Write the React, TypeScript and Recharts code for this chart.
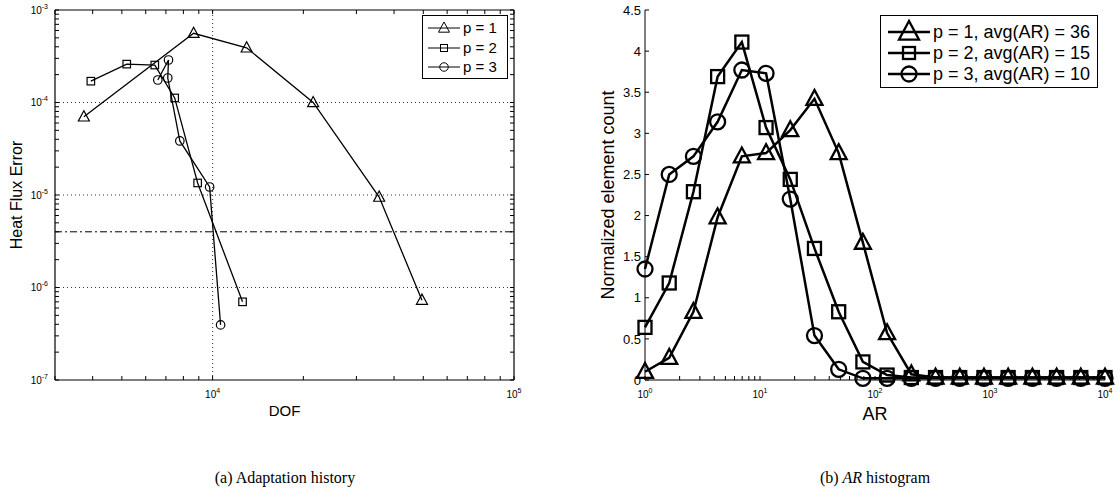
import React from 'react';
import { LineChart, Line, XAxis, YAxis, ReferenceLine, Legend, Label } from 'recharts';

const SANS = '"Liberation Sans", Arial, Helvetica, sans-serif';
const SERIF = '"Liberation Serif", "DejaVu Serif", serif';

// ---------- (a) Adaptation history ----------
const dofP1 = [3740, 8650, 12970, 21560, 35700, 49500];
const errP1 = [7.0e-5, 5.6e-4, 3.9e-4, 1.0e-4, 9.5e-6, 7.3e-7];
const dofP2 = [3945, 5190, 6430, 7485, 8920, 12570];
const errP2 = [1.7e-4, 2.6e-4, 2.54e-4, 1.12e-4, 1.35e-5, 7.0e-7];
const dofP3 = [6580, 7140, 7100, 7785, 9775, 10630];
const errP3 = [1.75e-4, 2.88e-4, 1.84e-4, 3.84e-5, 1.22e-5, 3.94e-7];
const leftNames = ['p = 1', 'p = 2', 'p = 3'];
const errorTarget = 4.0e-6;
const dofTicks = [3000, 4000, 5000, 6000, 7000, 8000, 9000, 10000, 20000, 30000, 40000, 50000, 60000, 70000, 80000, 90000, 100000];
const errTicks = [
  1e-7, 2e-7, 3e-7, 4e-7, 5e-7, 6e-7, 7e-7, 8e-7, 9e-7,
  1e-6, 2e-6, 3e-6, 4e-6, 5e-6, 6e-6, 7e-6, 8e-6, 9e-6,
  1e-5, 2e-5, 3e-5, 4e-5, 5e-5, 6e-5, 7e-5, 8e-5, 9e-5,
  1e-4, 2e-4, 3e-4, 4e-4, 5e-4, 6e-4, 7e-4, 8e-4, 9e-4, 1e-3,
];
const dofGrid = [1e4];
const errGrid = [1e-6, 1e-5, 1e-4];

// ---------- (b) AR histogram ----------
const arBins = [1, 1.624, 2.637, 4.281, 6.952, 11.29, 18.33, 29.76, 48.33, 78.48, 127.4, 206.9, 336.0, 545.6, 885.9, 1438, 2336, 3793, 6158, 10000];
const countP1 = [0.1, 0.27, 0.83, 1.98, 2.72, 2.76, 3.04, 3.42, 2.76, 1.67, 0.57, 0.07, 0.03, 0.03, 0.03, 0.03, 0.03, 0.03, 0.03, 0.03];
const countP2 = [0.64, 1.18, 2.29, 3.69, 4.11, 3.07, 2.44, 1.6, 0.83, 0.22, 0.06, 0.03, 0.03, 0.03, 0.03, 0.03, 0.03, 0.03, 0.03, 0.03];
const countP3 = [1.35, 2.5, 2.72, 3.14, 3.77, 3.73, 2.2, 0.54, 0.13, 0.02, 0.02, 0.02, 0.02, 0.02, 0.02, 0.02, 0.02, 0.02, 0.02, 0.02];
const rightNames = ['p = 1, avg(AR) = 36', 'p = 2, avg(AR) = 15', 'p = 3, avg(AR) = 10'];
const arTicks = [
  1, 2, 3, 4, 5, 6, 7, 8, 9,
  10, 20, 30, 40, 50, 60, 70, 80, 90,
  100, 200, 300, 400, 500, 600, 700, 800, 900,
  1000, 2000, 3000, 4000, 5000, 6000, 7000, 8000, 9000, 10000,
];
const countTicks = [0, 0.5, 1, 1.5, 2, 2.5, 3, 3.5, 4, 4.5];

const shapes = ['tri', 'sq', 'circ'];

const zip = (xs: number[], ys: number[]) => xs.map((x, i) => ({ x, y: ys[i] }));
const leftData = [zip(dofP1, errP1), zip(dofP2, errP2), zip(dofP3, errP3)];
const rightData = [zip(arBins, countP1), zip(arBins, countP2), zip(arBins, countP3)];

const isDecade = (v: number) => {
  const l = Math.log10(v);
  return Math.abs(l - Math.round(l)) < 1e-6;
};

function Marker({ shape, cx, cy, size, sw }: any) {
  if (cx == null || cy == null) return null;
  if (shape === 'tri') {
    const hw = size / 2;
    const top = cy - size * 0.55;
    const bot = cy + size * 0.38;
    return (
      <polygon
        points={`${cx},${top} ${cx - hw},${bot} ${cx + hw},${bot}`}
        fill="none"
        stroke="#000"
        strokeWidth={sw}
        strokeLinejoin="miter"
      />
    );
  }
  if (shape === 'sq') {
    const h = size / 2;
    return <rect x={cx - h} y={cy - h} width={size} height={size} fill="none" stroke="#000" strokeWidth={sw} />;
  }
  return <circle cx={cx} cy={cy} r={size / 2} fill="none" stroke="#000" strokeWidth={sw} />;
}

const dotRenderer = (shape: string, size: number, sw: number) => (p: any) => (
  <Marker key={`m-${shape}-${p.index}`} shape={shape} cx={p.cx} cy={p.cy} size={size} sw={sw} />
);

function PowLabel({ x, y, v, anchor, fs }: any) {
  const e = Math.round(Math.log10(v));
  return (
    <text x={x} y={y} textAnchor={anchor} fontSize={fs} fontFamily={SANS} fill="#000">
      10
      <tspan dy={-5} fontSize={fs * 0.7}>{String(e)}</tspan>
    </text>
  );
}

function BottomTick(props: any) {
  const { x, y, payload, len, labels, fs, labelDy } = props;
  const v = payload.value;
  return (
    <g>
      <line x1={x} x2={x} y1={y} y2={y - len} stroke="#000" strokeWidth={1} />
      {labels && isDecade(v) ? <PowLabel x={x} y={y + labelDy} v={v} anchor="middle" fs={fs} /> : null}
    </g>
  );
}

function TopTick(props: any) {
  const { x, y, len } = props;
  return <line x1={x} x2={x} y1={y} y2={y + len} stroke="#000" strokeWidth={1} />;
}

function LeftLogTick(props: any) {
  const { x, y, payload, len, fs } = props;
  const v = payload.value;
  return (
    <g>
      <line x1={x} x2={x + len} y1={y} y2={y} stroke="#000" strokeWidth={1} />
      {isDecade(v) ? <PowLabel x={x - 7} y={y + 3.5} v={v} anchor="end" fs={fs} /> : null}
    </g>
  );
}

function RightTick(props: any) {
  const { x, y, len } = props;
  return <line x1={x} x2={x - len} y1={y} y2={y} stroke="#000" strokeWidth={1} />;
}

function LeftLinTick(props: any) {
  const { x, y, payload, len, fs } = props;
  return (
    <g>
      <line x1={x} x2={x + len} y1={y} y2={y} stroke="#000" strokeWidth={1} />
      <text x={x - 4} y={y + fs * 0.36} textAnchor="end" fontSize={fs} fontFamily={SANS} fill="#000">
        {String(payload.value)}
      </text>
    </g>
  );
}

function LegendBox({ names, w, h, rows, lx1, lx2, mx, tx, fs, sizes, sw, lw }: any) {
  return (
    <svg width={w} height={h} style={{ display: 'block', overflow: 'visible' }}>
      <rect x={0.5} y={0.5} width={w - 1} height={h - 1} fill="#fff" stroke="#000" strokeWidth={1} />
      {names.map((n: string, i: number) => (
        <g key={n}>
          <line x1={lx1} x2={lx2} y1={rows[i]} y2={rows[i]} stroke="#000" strokeWidth={lw} />
          <Marker shape={shapes[i]} cx={mx} cy={rows[i]} size={sizes[i]} sw={sw} />
          <text x={tx} y={rows[i] + fs * 0.36} fontSize={fs} fontFamily={SANS} fill="#000">
            {n}
          </text>
        </g>
      ))}
    </svg>
  );
}

const axisLineStyle = { stroke: '#000', strokeWidth: 1.2 };

function LeftChart() {
  const sizes = [11, 7.5, 8.5];
  return (
    <LineChart width={540} height={501} margin={{ top: 9, right: 25, bottom: 76, left: 5 }}>
      <XAxis
        type="number"
        dataKey="x"
        scale="log"
        domain={[3000, 100000]}
        ticks={dofTicks}
        interval={0}
        tickLine={false}
        tickSize={0}
        tickMargin={0}
        height={45}
        axisLine={axisLineStyle}
        tick={<BottomTick len={4} labels fs={10} labelDy={18} />}
      >
        <Label value="DOF" position="insideBottom" offset={9} style={{ fontSize: 15, fill: '#000', fontFamily: SANS }} />
      </XAxis>
      <XAxis
        xAxisId="top"
        orientation="top"
        type="number"
        dataKey="x"
        scale="log"
        domain={[3000, 100000]}
        ticks={dofTicks}
        interval={0}
        tickLine={false}
        tickSize={0}
        tickMargin={0}
        height={1}
        axisLine={axisLineStyle}
        tick={<TopTick len={4} />}
      />
      <YAxis
        type="number"
        scale="log"
        domain={[1e-7, 1e-3]}
        ticks={errTicks}
        interval={0}
        tickLine={false}
        tickSize={0}
        tickMargin={0}
        width={50}
        axisLine={axisLineStyle}
        tick={<LeftLogTick len={4} fs={10} />}
      >
        <Label
          value="Heat Flux Error"
          angle={-90}
          position="insideLeft"
          offset={11}
          style={{ fontSize: 16, fill: '#000', fontFamily: SANS, textAnchor: 'middle' }}
        />
      </YAxis>
      <YAxis
        yAxisId="right"
        orientation="right"
        type="number"
        scale="log"
        domain={[1e-7, 1e-3]}
        ticks={errTicks}
        interval={0}
        tickLine={false}
        tickSize={0}
        tickMargin={0}
        width={1}
        axisLine={axisLineStyle}
        tick={<RightTick len={4} />}
      />
      {dofGrid.map((v) => (
        <ReferenceLine key={`gx${v}`} x={v} stroke="#333" strokeDasharray="1 3" strokeWidth={1} />
      ))}
      {errGrid.map((v) => (
        <ReferenceLine key={`gy${v}`} y={v} stroke="#333" strokeDasharray="1 3" strokeWidth={1} />
      ))}
      <ReferenceLine y={errorTarget} stroke="#000" strokeDasharray="7 3 2 3" strokeWidth={1} />
      {/* invisible carrier so the mirrored top/right axes get a domain */}
      <Line
        xAxisId="top"
        yAxisId="right"
        data={leftData[0]}
        dataKey="y"
        stroke="none"
        dot={false}
        activeDot={false}
        legendType="none"
        isAnimationActive={false}
      />
      {leftData.map((d, i) => (
        <Line
          key={leftNames[i]}
          name={leftNames[i]}
          data={d}
          dataKey="y"
          type="linear"
          stroke="#000"
          strokeWidth={1.3}
          isAnimationActive={false}
          activeDot={false}
          dot={dotRenderer(shapes[i], sizes[i], 1.2)}
        />
      ))}
      <Legend
        layout="horizontal"
        verticalAlign="middle"
        align="center"
        wrapperStyle={{ left: 422, top: 15, width: 86, height: 64 }}
        content={() => (
          <LegendBox
            names={leftNames}
            w={86}
            h={64}
            rows={[13, 33, 52]}
            lx1={6}
            lx2={38}
            mx={22}
            tx={41}
            fs={15}
            sizes={[11, 7, 8.5]}
            sw={1}
            lw={1}
          />
        )}
      />
    </LineChart>
  );
}

function RightChart() {
  const sizes = [16, 13, 15];
  return (
    <LineChart width={560} height={501} margin={{ top: 10, right: 15, bottom: 76, left: 25 }}>
      <XAxis
        type="number"
        dataKey="x"
        scale="log"
        domain={[1, 10000]}
        ticks={arTicks}
        interval={0}
        tickLine={false}
        tickSize={0}
        tickMargin={0}
        height={45}
        axisLine={{ stroke: '#000', strokeWidth: 1 }}
        tick={<BottomTick len={4} labels fs={10} labelDy={18} />}
      >
        <Label value="AR" position="insideBottom" offset={5} style={{ fontSize: 18, fill: '#000', fontFamily: SANS }} />
      </XAxis>
      <YAxis
        type="number"
        domain={[0, 4.5]}
        ticks={countTicks}
        interval={0}
        tickLine={false}
        tickSize={0}
        tickMargin={0}
        width={60}
        axisLine={{ stroke: '#000', strokeWidth: 1 }}
        tick={<LeftLinTick len={4} fs={13} />}
      >
        <Label
          value="Normalized element count"
          angle={-90}
          position="insideLeft"
          offset={23}
          style={{ fontSize: 18, fill: '#000', fontFamily: SANS, textAnchor: 'middle' }}
        />
      </YAxis>
      {rightData.map((d, i) => (
        <Line
          key={rightNames[i]}
          name={rightNames[i]}
          data={d}
          dataKey="y"
          type="linear"
          stroke="#000"
          strokeWidth={2.5}
          isAnimationActive={false}
          activeDot={false}
          dot={dotRenderer(shapes[i], sizes[i], 2.3)}
        />
      ))}
      <Legend
        layout="horizontal"
        verticalAlign="middle"
        align="center"
        wrapperStyle={{ left: 320, top: 15, width: 218, height: 73 }}
        content={() => (
          <LegendBox
            names={rightNames}
            w={218}
            h={73}
            rows={[17, 38, 59]}
            lx1={8}
            lx2={50}
            mx={29}
            tx={53}
            fs={18}
            sizes={[20, 12, 15]}
            sw={2.3}
            lw={2.5}
          />
        )}
      />
    </LineChart>
  );
}

export default function App() {
  return (
    <div style={{ position: 'fixed', left: 0, top: 0, width: 1120, height: 501, background: '#fff', overflow: 'hidden' }}>
      <div style={{ position: 'absolute', left: 0, top: 0 }}>
        <LeftChart />
      </div>
      <div style={{ position: 'absolute', left: 560, top: 0 }}>
        <RightChart />
      </div>
      <svg width={1120} height={501} style={{ position: 'absolute', left: 0, top: 0, pointerEvents: 'none' }}>
        <text x={285} y={483} textAnchor="middle" fontSize={16} fontFamily={SERIF} fill="#000">
          (a) Adaptation history
        </text>
        <text x={875} y={483} textAnchor="middle" fontSize={16} fontFamily={SERIF} fill="#000">
          (b) <tspan fontStyle="italic">AR</tspan> histogram
        </text>
      </svg>
    </div>
  );
}
